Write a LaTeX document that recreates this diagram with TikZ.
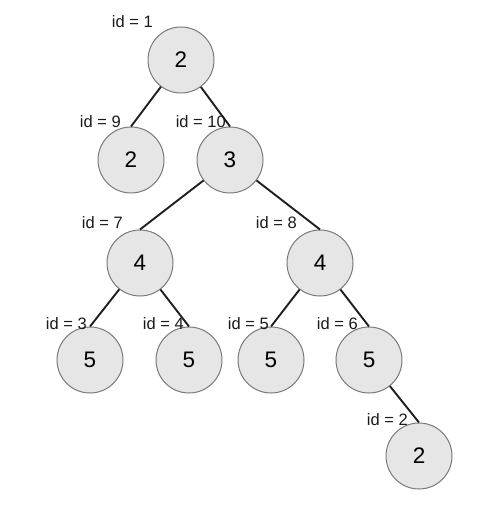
\documentclass[tikz,border=0pt]{standalone}
\usepackage{fontspec}
\setmainfont{Liberation Sans}
\definecolor{nodefill}{HTML}{E6E6E6}
\definecolor{nodeline}{HTML}{7A7A7A}
\definecolor{idtext}{HTML}{1A1A1A}
\begin{document}
\begin{tikzpicture}[x=1pt,y=-1pt,
  tnode/.style={circle,draw=nodeline,fill=nodefill,line width=1pt,minimum size=66pt,inner sep=0pt,font=\fontsize{22.5}{26}\selectfont},
  edge/.style={line width=1.9pt,black!88},
  idlab/.style={anchor=base east,inner sep=0pt,text=idtext,font=\fontsize{16.5}{19}\selectfont}]
\useasboundingbox (0,0) rectangle (480,510);
\node[tnode] (n1) at (181,60) {2};
\node[tnode] (n9) at (131,160) {2};
\node[tnode] (n10) at (230,160) {3};
\node[tnode] (n7) at (140,263) {4};
\node[tnode] (n8) at (320,263) {4};
\node[tnode] (n3) at (90,360) {5};
\node[tnode] (n4) at (189,360) {5};
\node[tnode] (n5) at (271,360) {5};
\node[tnode] (n6) at (369,360) {5};
\node[tnode] (n2) at (419,456) {2};
\draw[edge] (n1) -- (n9.north);
\draw[edge] (n1) -- (n10.north);
\draw[edge] (n10) -- (n7.north);
\draw[edge] (n10) -- (n8.north);
\draw[edge] (n7) -- (n3.north);
\draw[edge] (n7) -- (n4.north);
\draw[edge] (n8) -- (n5.north);
\draw[edge] (n8) -- (n6.north);
\draw[edge] (n6) -- (n2.north);
\node[idlab] (l1) at (153,28) {id = 1};
\node[idlab] (l9) at (121,128) {id = 9};
\node[idlab] (l10) at (226,128) {id = 10};
\node[idlab] (l7) at (123,229) {id = 7};
\node[idlab] (l8) at (297,229) {id = 8};
\node[idlab] (l3) at (87,329) {id = 3};
\node[idlab] (l4) at (184,329) {id = 4};
\node[idlab] (l5) at (269,329) {id = 5};
\node[idlab] (l6) at (358,329) {id = 6};
\node[idlab] (l2) at (408,425) {id = 2};
\end{tikzpicture}
\end{document}
